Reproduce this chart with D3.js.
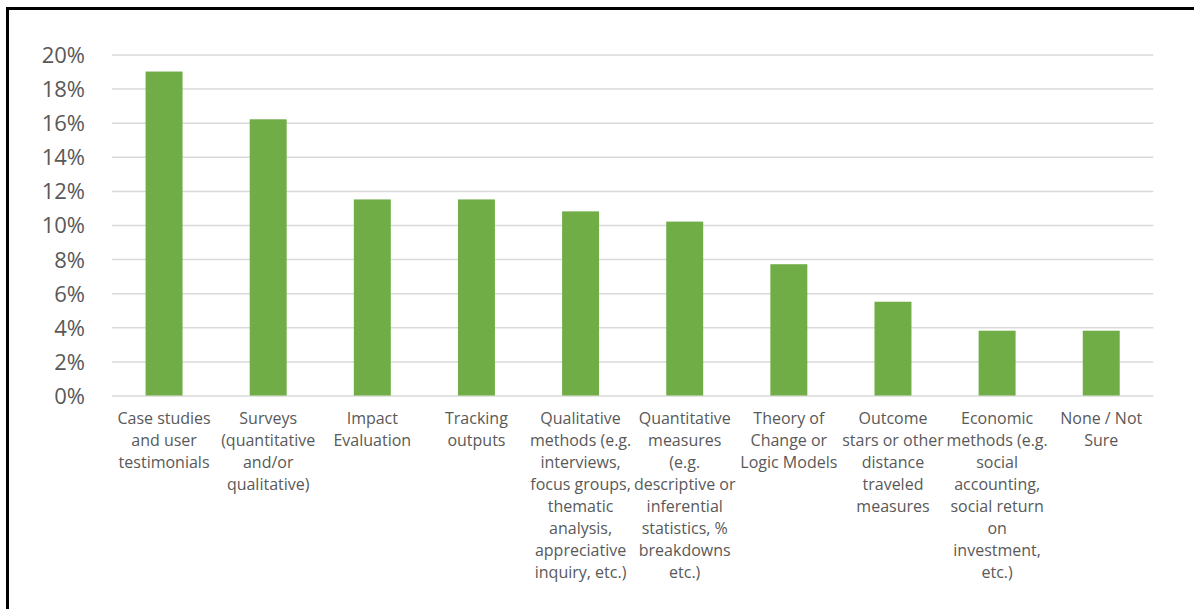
<!DOCTYPE html>
<html>
<head>
<meta charset="utf-8">
<script src="https://cdn.jsdelivr.net/npm/d3@7"></script>
<style>
  body { margin: 0; background: #fff; }
  .grid line { stroke: #d9d9d9; stroke-width: 1.5; }
  .grid text { fill: #595959; font-family: "Open Sans", sans-serif; font-size: 22px; }
  .cat { fill: #595959; font-family: "Open Sans", sans-serif; font-size: 16px; }
  .bar { fill: #70ad47; }
</style>
</head>
<body>
<div id="chart"></div>
<script>
var w = 1194;
var h = 609;

// category labels, already wrapped the way the original shows them
var categories = [
    ["Case studies", "and user", "testimonials"],
    ["Surveys", "(quantitative", "and/or", "qualitative)"],
    ["Impact", "Evaluation"],
    ["Tracking", "outputs"],
    ["Qualitative", "methods (e.g.", "interviews,", "focus groups,", "thematic", "analysis,", "appreciative", "inquiry, etc.)"],
    ["Quantitative", "measures", "(e.g.", "descriptive or", "inferential", "statistics, %", "breakdowns", "etc.)"],
    ["Theory of", "Change or", "Logic Models"],
    ["Outcome", "stars or other", "distance", "traveled", "measures"],
    ["Economic", "methods (e.g.", "social", "accounting,", "social return", "on", "investment,", "etc.)"],
    ["None / Not", "Sure"]
];
var values = [19.0, 16.2, 11.5, 11.5, 10.8, 10.2, 7.7, 5.5, 3.8, 3.8];
var yTicks = [0, 2, 4, 6, 8, 10, 12, 14, 16, 18, 20];

var plotLeft = 112, plotRight = 1153.3, plotTop = 54.5, plotBottom = 395.5;

var svg = d3.select("#chart").append("svg").attr("width", w).attr("height", h);

var xScale = d3.scaleBand()
    .domain(d3.range(categories.length))
    .range([plotLeft, plotRight])
    .paddingInner(0.645)
    .paddingOuter(0.3225);

var yScale = d3.scaleLinear()
    .domain([0, 20])
    .range([plotBottom, plotTop]);

// gridlines + tick labels
var yAxis = d3.axisLeft(yScale)
    .tickValues(yTicks)
    .tickFormat(function (d) { return d + "%"; })
    .tickSize(-(plotRight - plotLeft))
    .tickPadding(27);

var g = svg.append("g")
    .attr("class", "grid")
    .attr("transform", "translate(" + plotLeft + ",0)")
    .call(yAxis);
g.select(".domain").remove();
g.selectAll("text").attr("dy", "0.36em");

// bars
svg.selectAll(".bar")
    .data(values)
    .enter().append("rect")
    .attr("class", "bar")
    .attr("x", function (d, i) { return xScale(i); })
    .attr("width", xScale.bandwidth())
    .attr("y", function (d) { return yScale(d); })
    .attr("height", function (d) { return yScale(0) - yScale(d); });

// category labels
var labels = svg.selectAll(".cat")
    .data(categories)
    .enter().append("text")
    .attr("class", "cat")
    .attr("text-anchor", "middle")
    .attr("x", function (d, i) { return xScale(i) + xScale.bandwidth() / 2; })
    .attr("y", plotBottom + 28.5);

labels.selectAll("tspan")
    .data(function (d, i) { return d.map(function (s) { return { s: s, i: i }; }); })
    .enter().append("tspan")
    .attr("x", function (d) { return xScale(d.i) + xScale.bandwidth() / 2; })
    .attr("dy", function (d, j) { return j === 0 ? 0 : 22; })
    .text(function (d) { return d.s; });

// frame (left and top edges of the cropped picture)
svg.append("path")
    .attr("d", "M7.5," + h + "V8.5H" + w)
    .attr("fill", "none")
    .attr("stroke", "#000")
    .attr("stroke-width", 3);
</script>
</body>
</html>
